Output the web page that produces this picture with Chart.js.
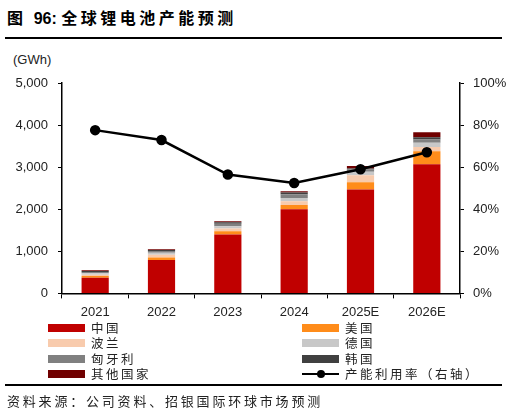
<!DOCTYPE html>
<html>
<head>
<meta charset="utf-8">
<script src="https://cdn.jsdelivr.net/npm/chart.js@4.4.0/dist/chart.umd.min.js"></script>
<style>
  body { margin: 0; width: 522px; height: 417px; background: #fff; position: relative; overflow: hidden;
         font-family: "Noto Sans CJK SC", "Liberation Sans", sans-serif; }
  .title { position: absolute; left: 7px; top: 5px; font-size: 16px; font-weight: bold; letter-spacing: 3.5px; }
  .title b { font-family: "Liberation Sans", Arial, sans-serif; letter-spacing: 0; }
  .rule { position: absolute; left: 5px; width: 497px; height: 2px; background: #000; }
  .unit { position: absolute; left: 13px; top: 52px; font-size: 13px; font-family: "Liberation Sans", Arial, sans-serif; color: #222; }
  #wrap { position: absolute; left: 0; top: 45px; width: 522px; height: 281px; }
  .lg { position: absolute; font-size: 12.5px; letter-spacing: 2.5px; color: #222; line-height: 14px; }
  .sw { position: absolute; width: 37px; height: 8px; }
  .src { position: absolute; left: 7px; top: 391px; font-size: 13px; letter-spacing: 2.8px; color: #222; }
</style>
</head>
<body>
<div class="title">图 <b>96: </b>全球锂电池产能预测</div>
<div class="rule" style="top:37px"></div>
<div class="unit">(GWh)</div>
<div id="wrap"><canvas id="c"></canvas></div>
<div id="legend"></div>
<div class="rule" style="top:384px"></div>
<div class="src">资料来源：公司资料、招银国际环球市场预测</div>
<script>
const years = ['2021', '2022', '2023', '2024', '2025E', '2026E'];
const china   = [373, 793, 1397, 2000, 2469, 3070];
const usa     = [40, 63, 80, 103, 174, 310];
const poland  = [32, 63, 63, 87, 167, 100];
const germany = [32, 48, 55, 80, 80, 100];
const hungary = [32, 40, 63, 87, 55, 80];
const korea   = [24, 24, 32, 40, 25, 50];
const others  = [16, 16, 24, 32, 55, 120];
const utilization = [77.6, 72.9, 56.5, 52.5, 59.0, 67.1];

const series = [
  { label: '中国', data: china, color: '#C00000' },
  { label: '美国', data: usa, color: '#FF8C1A' },
  { label: '波兰', data: poland, color: '#F8CBAD' },
  { label: '德国', data: germany, color: '#C8C8C8' },
  { label: '匈牙利', data: hungary, color: '#808080' },
  { label: '韩国', data: korea, color: '#404040' },
  { label: '其他国家', data: others, color: '#700000' },
];

const tickFont = { family: 'Liberation Sans', size: 13 };

const datasets = series.map((s) => ({
  type: 'bar',
  label: s.label,
  data: s.data,
  backgroundColor: s.color,
  stack: 'cap',
  yAxisID: 'y',
  barPercentage: 0.82,
  categoryPercentage: 0.5,
  order: 2,
}));
datasets.push({
  type: 'line',
  label: '产能利用率（右轴）',
  data: utilization,
  yAxisID: 'y1',
  borderColor: '#000',
  backgroundColor: '#000',
  borderWidth: 2.5,
  pointRadius: 4,
  pointBackgroundColor: '#000',
  tension: 0,
  order: 1,
});

new Chart(document.getElementById('c'), {
  data: { labels: years, datasets },
  options: {
    responsive: true,
    maintainAspectRatio: false,
    animation: false,
    layout: { padding: { top: 38, bottom: 0, left: 0, right: 0 } },
    plugins: { legend: { display: false }, tooltip: { enabled: false } },
    scales: {
      x: {
        stacked: true,
        offset: true,
        grid: { display: true, drawOnChartArea: false, offset: true, color: '#000', tickLength: 5 },
        border: { color: '#000', width: 1.5 },
        ticks: { color: '#222', font: tickFont, padding: 6 },
      },
      y: {
        stacked: true,
        position: 'left',
        min: 0, max: 5000,
        ticks: { stepSize: 1000, color: '#222', font: tickFont, padding: 10,
                 callback: (v) => v.toLocaleString('en-US') },
        grid: { drawOnChartArea: false, color: '#000', tickLength: 4 },
        border: { color: '#000', width: 1.5 },
        afterFit: (a) => { a.width = 62; },
      },
      y1: {
        position: 'right',
        min: 0, max: 100,
        ticks: { stepSize: 20, color: '#222', font: tickFont, padding: 9,
                 callback: (v) => v + '%' },
        grid: { drawOnChartArea: false, color: '#000', tickLength: 4 },
        border: { color: '#000', width: 1.5 },
        afterFit: (a) => { a.width = 62; },
      },
    },
  },
});

// legend drawn as html, two columns
const lg = document.getElementById('legend');
const rowsY = [322, 337, 353, 368];
const items = [
  [series[0], 0, 0], [series[1], 1, 0],
  [series[2], 0, 1], [series[3], 1, 1],
  [series[4], 0, 2], [series[5], 1, 2],
  [series[6], 0, 3],
];
items.forEach(([s, col, row]) => {
  const x = col === 0 ? 48 : 302;
  const sw = document.createElement('div');
  sw.className = 'sw';
  sw.style.left = x + 'px';
  sw.style.top = (rowsY[row] + 2) + 'px';
  sw.style.background = s.color;
  lg.appendChild(sw);
  const t = document.createElement('div');
  t.className = 'lg';
  t.style.left = (x + 43) + 'px';
  t.style.top = (rowsY[row] - 1) + 'px';
  t.textContent = s.label;
  lg.appendChild(t);
});
const ln = document.createElement('div');
ln.style.cssText = 'position:absolute;left:302px;top:' + (rowsY[3] + 5) + 'px;width:37px;height:2px;background:#000';
lg.appendChild(ln);
const dot = document.createElement('div');
dot.style.cssText = 'position:absolute;left:317px;top:' + (rowsY[3] + 2) + 'px;width:8px;height:8px;border-radius:50%;background:#000';
lg.appendChild(dot);
const lt = document.createElement('div');
lt.className = 'lg';
lt.style.left = '345px';
lt.style.top = (rowsY[3] - 1) + 'px';
lt.textContent = '产能利用率（右轴）';
lg.appendChild(lt);
</script>
</body>
</html>
